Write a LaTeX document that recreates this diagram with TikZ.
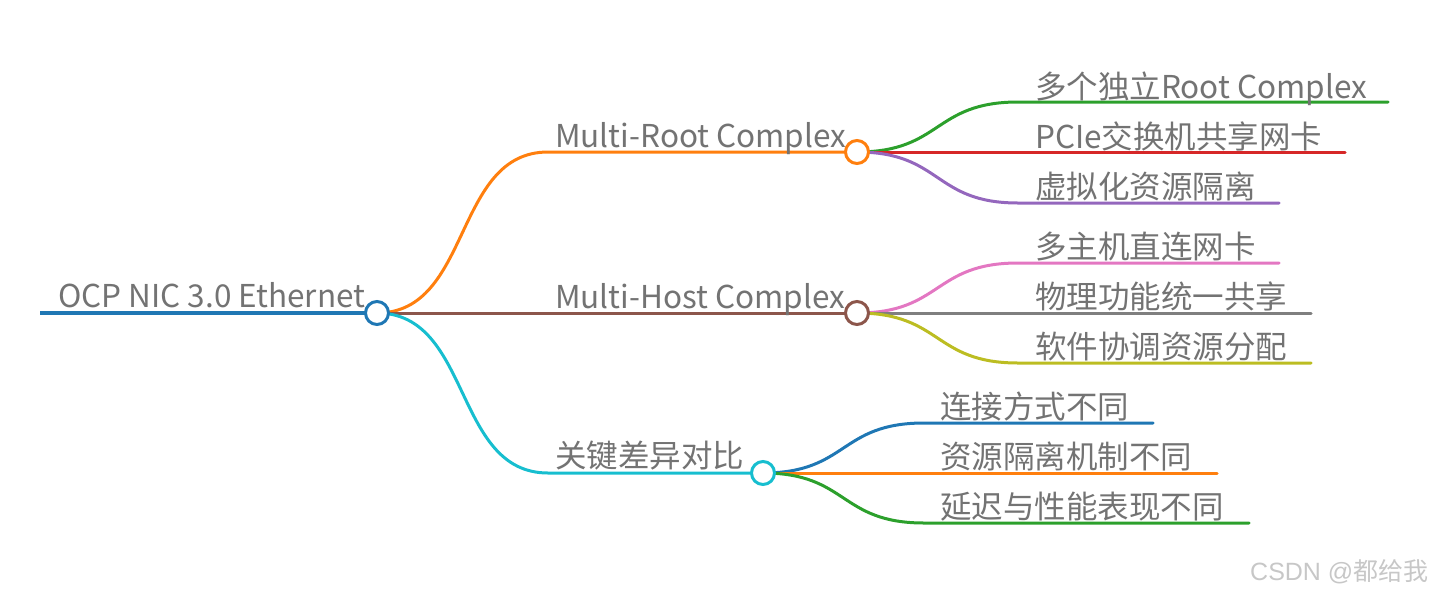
\documentclass[tikz,border=0pt]{standalone}
\usepackage{fontspec}
\setmainfont{Noto Sans CJK SC}
\newfontfamily\wmfont{Liberation Sans}
\newfontfamily\wmcjk{Noto Sans CJK SC}
\definecolor{cblue}{HTML}{1F77B4}
\definecolor{corange}{HTML}{FF7F0E}
\definecolor{cbrown}{HTML}{8C564B}
\definecolor{ccyan}{HTML}{17BECF}
\definecolor{cgreen}{HTML}{2CA02C}
\definecolor{cred}{HTML}{D62728}
\definecolor{cpurple}{HTML}{9467BD}
\definecolor{cpink}{HTML}{E377C2}
\definecolor{cgray}{HTML}{7F7F7F}
\definecolor{colive}{HTML}{BCBD22}
\definecolor{ctext}{HTML}{737373}
\begin{document}
\begin{tikzpicture}[x=1pt,y=-1pt,
  dot/.style={circle,fill=white,line width=3pt,minimum size=23pt,inner sep=0pt},
  lbl/.style={anchor=base west,inner sep=0pt,text=ctext,font=\fontsize{31.5}{36}\selectfont},
  link/.style={line width=3pt,line cap=round},
  rootlink/.style={line width=3.5pt}]
\useasboundingbox (0,0) rectangle (1435,595);

% coordinates
\coordinate (rootL) at (40,313);
\coordinate (rootC) at (377,313);
\coordinate (mrC) at (857,152);
\coordinate (mhC) at (857,313);
\coordinate (kdC) at (763,473);
\coordinate (mrS) at (548,152);
\coordinate (mhS) at (548,313);
\coordinate (kdS) at (548,473);
% level 2 starts/ends
\coordinate (a1S) at (1018,102) ; \coordinate (a1E) at (1388,102);
\coordinate (a2S) at (1018,152) ; \coordinate (a2E) at (1345,152);
\coordinate (a3S) at (1018,203) ; \coordinate (a3E) at (1279,203);
\coordinate (b1S) at (1018,263) ; \coordinate (b1E) at (1279,263);
\coordinate (b2S) at (1018,313) ; \coordinate (b2E) at (1311,313);
\coordinate (b3S) at (1018,363) ; \coordinate (b3E) at (1311,363);
\coordinate (c1S) at (924,423) ; \coordinate (c1E) at (1153,423);
\coordinate (c2S) at (924,473) ; \coordinate (c2E) at (1217,473);
\coordinate (c3S) at (924,523) ; \coordinate (c3E) at (1249,523);

% root line
\draw[rootlink,cblue] (rootL) -- (rootC);
% level 1 links
\draw[link,corange] (rootC) .. controls +(95,0) and +(-95,0) .. (mrS) -- (mrC);
\draw[link,cbrown] (rootC) -- (mhC);
\draw[link,ccyan] (rootC) .. controls +(95,0) and +(-95,0) .. (kdS) -- (kdC);
% level 2 links
\draw[link,cgreen] (mrC) .. controls +(85,0) and +(-85,0) .. (a1S) -- (a1E);
\draw[link,cred] (mrC) -- (a2E);
\draw[link,cpurple] (mrC) .. controls +(85,0) and +(-85,0) .. (a3S) -- (a3E);
\draw[link,cpink] (mhC) .. controls +(85,0) and +(-85,0) .. (b1S) -- (b1E);
\draw[link,cgray] (mhC) -- (b2E);
\draw[link,colive] (mhC) .. controls +(85,0) and +(-85,0) .. (b3S) -- (b3E);
\draw[link,cblue] (kdC) .. controls +(85,0) and +(-85,0) .. (c1S) -- (c1E);
\draw[link,corange] (kdC) -- (c2E);
\draw[link,cgreen] (kdC) .. controls +(85,0) and +(-85,0) .. (c3S) -- (c3E);

% circles
\node[dot,draw=cblue] (root) at (rootC) {};
\node[dot,draw=corange] (mr) at (mrC) {};
\node[dot,draw=cbrown] (mh) at (mhC) {};
\node[dot,draw=ccyan] (kd) at (kdC) {};

% labels
\node[lbl] (rootT) at (58,307) {OCP NIC 3.0 Ethernet};
\node[lbl] (mrT) at (555,147) {Multi-Root Complex};
\node[lbl] (mhT) at (555,308) {Multi-Host Complex};
\node[lbl] (kdT) at (555,467) {关键差异对比};
\node[lbl] (a1T) at (1035,98) {多个独立Root Complex};
\node[lbl] (a2T) at (1035,148) {PCIe交换机共享网卡};
\node[lbl] (a3T) at (1035,198) {虚拟化资源隔离};
\node[lbl] (b1T) at (1035,258) {多主机直连网卡};
\node[lbl] (b2T) at (1035,308) {物理功能统一共享};
\node[lbl] (b3T) at (1035,358) {软件协调资源分配};
\node[lbl] (c1T) at (940,418) {连接方式不同};
\node[lbl] (c2T) at (940,468) {资源隔离机制不同};
\node[lbl] (c3T) at (940,518) {延迟与性能表现不同};

% watermark
\node[anchor=base west,inner sep=0pt,text=black!22,font=\fontsize{25}{28}\selectfont] (wm) at (1250,580) {\wmfont CSDN @\wmcjk 都给我};
\end{tikzpicture}
\end{document}
